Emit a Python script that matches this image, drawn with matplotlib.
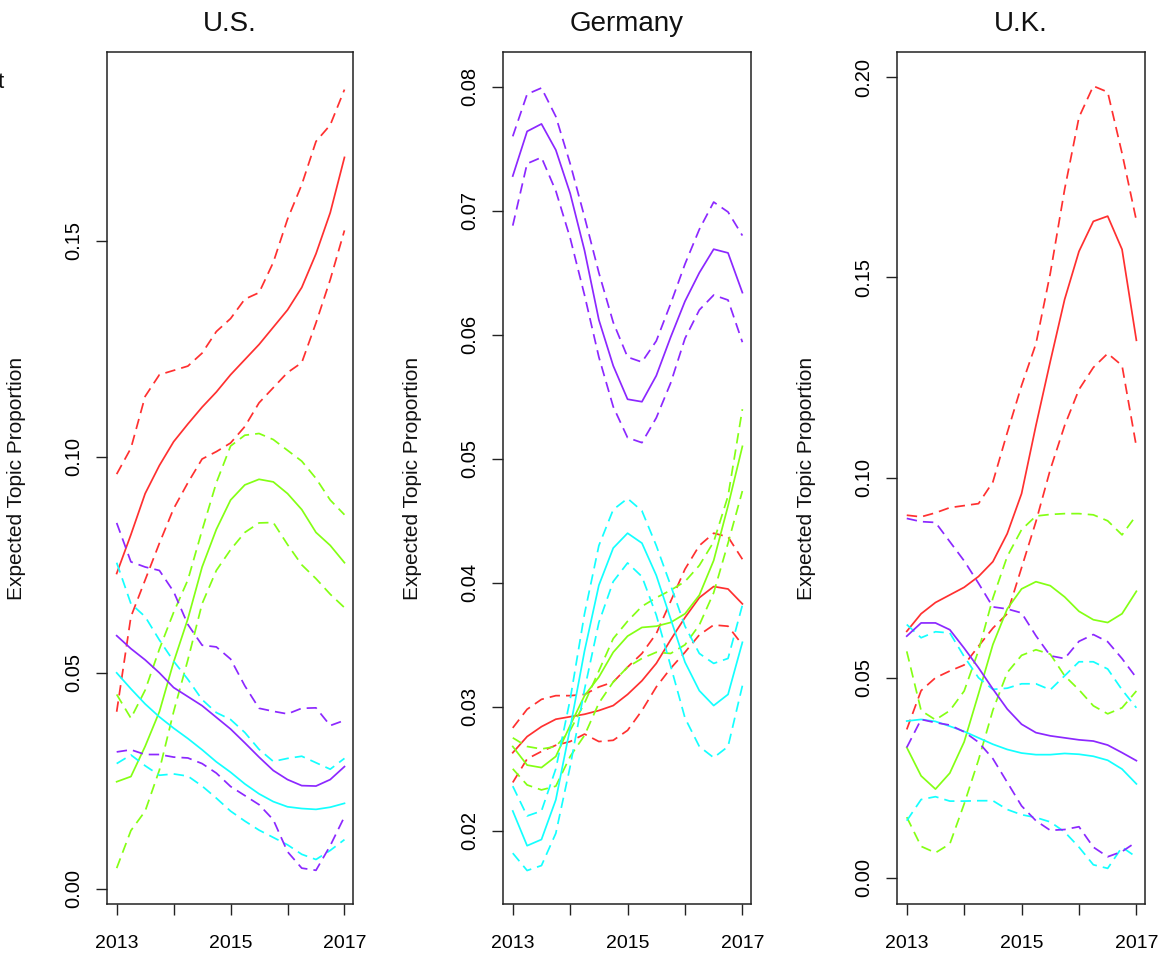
import matplotlib
matplotlib.use("Agg")
import matplotlib.pyplot as plt

plt.rcParams['font.family'] = ['Liberation Sans', 'DejaVu Sans']

years = [2013.0, 2013.25, 2013.5, 2013.75, 2014.0, 2014.25, 2014.5, 2014.75,
         2015.0, 2015.25, 2015.5, 2015.75, 2016.0, 2016.25, 2016.5, 2016.75, 2017.0]
xtick_years = [2013, 2014, 2015, 2016, 2017]
xtick_labels = ["2013", "", "2015", "", "2017"]

titles = ["U.S.", "Germany", "U.K."]
ylabel = "Expected Topic Proportion"

# ---------------- U.S. ----------------
us_red_mean = [0.073, 0.082, 0.0915, 0.098, 0.1035, 0.1076, 0.1115, 0.115, 0.119, 0.1225, 0.126, 0.130, 0.134, 0.1392, 0.147, 0.1565, 0.1693]
us_red_hi = [0.096, 0.102, 0.114, 0.119, 0.120, 0.121, 0.124, 0.129, 0.132, 0.1365, 0.138, 0.145, 0.155, 0.163, 0.173, 0.1768, 0.185]
us_red_lo = [0.041, 0.063, 0.0715, 0.080, 0.088, 0.094, 0.0995, 0.1012, 0.1032, 0.107, 0.1125, 0.116, 0.1195, 0.1218, 0.131, 0.141, 0.1524]
us_green_mean = [0.0248, 0.026, 0.033, 0.041, 0.0525, 0.0625, 0.0745, 0.0832, 0.090, 0.0935, 0.0948, 0.0942, 0.0915, 0.0878, 0.0825, 0.0795, 0.0755]
us_green_hi = [0.045, 0.0395, 0.046, 0.0555, 0.064, 0.0715, 0.083, 0.094, 0.1025, 0.105, 0.1054, 0.104, 0.1015, 0.099, 0.095, 0.090, 0.0866]
us_green_lo = [0.0048, 0.0135, 0.018, 0.0275, 0.041, 0.053, 0.066, 0.0737, 0.0785, 0.0825, 0.0847, 0.0848, 0.0797, 0.075, 0.0718, 0.0682, 0.0651]
us_cyan_mean = [0.050, 0.0463, 0.0428, 0.0398, 0.0372, 0.0348, 0.0322, 0.0294, 0.027, 0.0243, 0.022, 0.0202, 0.019, 0.0186, 0.0184, 0.0189, 0.0198]
us_cyan_hi = [0.0755, 0.066, 0.063, 0.0576, 0.0527, 0.0485, 0.0438, 0.0408, 0.0392, 0.0362, 0.0323, 0.0295, 0.0302, 0.0307, 0.0292, 0.0277, 0.0302]
us_cyan_lo = [0.029, 0.031, 0.0285, 0.0263, 0.0266, 0.0261, 0.0238, 0.021, 0.018, 0.0157, 0.0136, 0.0119, 0.0102, 0.008, 0.0068, 0.0089, 0.0114]
us_purple_mean = [0.0586, 0.0556, 0.053, 0.050, 0.0466, 0.0445, 0.0424, 0.0397, 0.037, 0.0338, 0.0305, 0.0274, 0.0253, 0.0239, 0.0238, 0.0253, 0.0283]
us_purple_hi = [0.0847, 0.0757, 0.0745, 0.0737, 0.0688, 0.0612, 0.0564, 0.056, 0.0532, 0.047, 0.0418, 0.0411, 0.0405, 0.0418, 0.0419, 0.0378, 0.039]
us_purple_lo = [0.0317, 0.0322, 0.0311, 0.0311, 0.0305, 0.0303, 0.029, 0.0268, 0.0237, 0.0216, 0.0195, 0.016, 0.0086, 0.0048, 0.0043, 0.010, 0.0167]

# ---------------- Germany ----------------
de_red_mean = [0.0263, 0.0276, 0.0284, 0.029, 0.0292, 0.0294, 0.0297, 0.0301, 0.031, 0.0321, 0.0335, 0.0354, 0.0372, 0.0388, 0.0397, 0.0395, 0.0383]
de_red_hi = [0.0283, 0.0298, 0.0306, 0.0309, 0.0309, 0.031, 0.0316, 0.032, 0.0332, 0.0343, 0.0359, 0.0385, 0.0411, 0.043, 0.044, 0.0437, 0.0419]
de_red_lo = [0.0239, 0.0258, 0.0264, 0.0269, 0.0272, 0.0278, 0.0272, 0.0273, 0.0281, 0.0297, 0.0316, 0.0331, 0.0344, 0.0358, 0.0366, 0.0365, 0.035]
de_green_mean = [0.0268, 0.0253, 0.0251, 0.026, 0.0285, 0.0309, 0.0324, 0.0344, 0.0357, 0.0364, 0.0365, 0.0368, 0.0375, 0.039, 0.0418, 0.0462, 0.051]
de_green_hi = [0.0275, 0.0268, 0.0266, 0.0268, 0.0281, 0.0303, 0.0329, 0.0355, 0.0369, 0.0381, 0.0388, 0.0394, 0.0401, 0.0414, 0.0433, 0.047, 0.054]
de_green_lo = [0.025, 0.0237, 0.0233, 0.0236, 0.026, 0.0277, 0.0303, 0.032, 0.0332, 0.0339, 0.0344, 0.0343, 0.035, 0.0366, 0.0392, 0.0432, 0.0474]
de_cyan_mean = [0.0216, 0.0188, 0.0193, 0.0225, 0.0283, 0.0345, 0.0398, 0.0428, 0.044, 0.0432, 0.0406, 0.0371, 0.0336, 0.0313, 0.0301, 0.031, 0.0352]
de_cyan_hi = [0.0236, 0.0212, 0.0216, 0.025, 0.0306, 0.0375, 0.043, 0.0459, 0.0468, 0.0458, 0.043, 0.0398, 0.0365, 0.0343, 0.0335, 0.0339, 0.0382]
de_cyan_lo = [0.0182, 0.0168, 0.0172, 0.0198, 0.0252, 0.0314, 0.0368, 0.0401, 0.0416, 0.0405, 0.0374, 0.0333, 0.0291, 0.0268, 0.0259, 0.0268, 0.0317]
de_purple_mean = [0.0728, 0.0764, 0.077, 0.0749, 0.0714, 0.0668, 0.0612, 0.0575, 0.0548, 0.0546, 0.0567, 0.0598, 0.0627, 0.065, 0.0669, 0.0666, 0.0634]
de_purple_hi = [0.076, 0.0794, 0.0799, 0.0776, 0.0738, 0.0695, 0.065, 0.061, 0.0582, 0.0578, 0.0595, 0.0625, 0.0657, 0.0685, 0.0707, 0.0699, 0.068]
de_purple_lo = [0.0688, 0.0738, 0.0743, 0.0716, 0.0678, 0.0632, 0.0582, 0.0542, 0.0517, 0.0513, 0.0533, 0.0561, 0.0597, 0.062, 0.0632, 0.0628, 0.0594]

# ---------------- U.K. ----------------
uk_red_mean = [0.0616, 0.066, 0.0688, 0.0707, 0.0726, 0.0753, 0.079, 0.086, 0.096, 0.113, 0.129, 0.1445, 0.1565, 0.164, 0.1653, 0.157, 0.1343]
uk_red_hi = [0.0906, 0.0902, 0.0912, 0.0925, 0.093, 0.0935, 0.0989, 0.1112, 0.123, 0.1334, 0.151, 0.172, 0.190, 0.1978, 0.1963, 0.181, 0.1642]
uk_red_lo = [0.0371, 0.0468, 0.050, 0.0517, 0.0532, 0.0579, 0.0624, 0.066, 0.0775, 0.089, 0.102, 0.113, 0.122, 0.1275, 0.131, 0.128, 0.1077]
uk_green_mean = [0.0326, 0.0255, 0.0222, 0.0262, 0.034, 0.046, 0.0583, 0.0672, 0.0722, 0.074, 0.073, 0.0702, 0.0666, 0.0645, 0.0638, 0.066, 0.0716]
uk_green_hi = [0.0566, 0.0418, 0.0395, 0.0418, 0.0467, 0.0568, 0.0699, 0.0803, 0.087, 0.0904, 0.0908, 0.091, 0.091, 0.0907, 0.0892, 0.0857, 0.0906]
uk_green_lo = [0.0152, 0.0079, 0.0063, 0.0085, 0.0185, 0.0295, 0.0419, 0.0513, 0.0556, 0.057, 0.0559, 0.0505, 0.047, 0.043, 0.041, 0.0425, 0.0467]
uk_cyan_mean = [0.0392, 0.0396, 0.0391, 0.0379, 0.0366, 0.035, 0.0334, 0.0321, 0.0312, 0.0308, 0.0308, 0.0311, 0.0309, 0.0304, 0.0294, 0.0272, 0.0235]
uk_cyan_hi = [0.0633, 0.060, 0.0615, 0.0612, 0.0553, 0.050, 0.0471, 0.0474, 0.0485, 0.0485, 0.047, 0.0505, 0.054, 0.054, 0.0522, 0.047, 0.0425]
uk_cyan_lo = [0.0143, 0.0196, 0.0203, 0.0192, 0.0192, 0.0193, 0.0193, 0.0171, 0.0158, 0.0151, 0.014, 0.0115, 0.0077, 0.0033, 0.0024, 0.0077, 0.0052]
uk_purple_mean = [0.0604, 0.0637, 0.0637, 0.062, 0.0574, 0.0525, 0.0472, 0.0422, 0.0384, 0.0363, 0.0355, 0.035, 0.0345, 0.0342, 0.0332, 0.0313, 0.0293]
uk_purple_hi = [0.0898, 0.089, 0.0888, 0.084, 0.0792, 0.0736, 0.0677, 0.0672, 0.0662, 0.0605, 0.0555, 0.0548, 0.0591, 0.0608, 0.059, 0.0548, 0.050]
uk_purple_lo = [0.0326, 0.0396, 0.0388, 0.0382, 0.0365, 0.0339, 0.0298, 0.0239, 0.018, 0.0143, 0.0119, 0.0121, 0.0128, 0.0077, 0.0053, 0.0066, 0.009]

us_yticks = [0.00, 0.05, 0.10, 0.15]
us_ylabels = ["0.00", "0.05", "0.10", "0.15"]
de_yticks = [0.02, 0.03, 0.04, 0.05, 0.06, 0.07, 0.08]
de_ylabels = ["0.02", "0.03", "0.04", "0.05", "0.06", "0.07", "0.08"]
uk_yticks = [0.00, 0.05, 0.10, 0.15, 0.20]
uk_ylabels = ["0.00", "0.05", "0.10", "0.15", "0.20"]

topic_colors = ["#FF3030", "#84FF14", "#14FFFF", "#8C28FF"]

W, H = 1172, 956
fig = plt.figure(figsize=(W / 100, H / 100), dpi=100)

panels = [
    dict(left=107, right=353, ylim=(-0.0035, 0.1937), yticks=us_yticks, ylabels=us_ylabels,
         series=[(us_red_mean, us_red_hi, us_red_lo), (us_green_mean, us_green_hi, us_green_lo),
                 (us_cyan_mean, us_cyan_hi, us_cyan_lo), (us_purple_mean, us_purple_hi, us_purple_lo)]),
    dict(left=503, right=751, ylim=(0.0141, 0.0828), yticks=de_yticks, ylabels=de_ylabels,
         series=[(de_red_mean, de_red_hi, de_red_lo), (de_green_mean, de_green_hi, de_green_lo),
                 (de_cyan_mean, de_cyan_hi, de_cyan_lo), (de_purple_mean, de_purple_hi, de_purple_lo)]),
    dict(left=897, right=1145, ylim=(-0.0065, 0.2063), yticks=uk_yticks, ylabels=uk_ylabels,
         series=[(uk_red_mean, uk_red_hi, uk_red_lo), (uk_green_mean, uk_green_hi, uk_green_lo),
                 (uk_cyan_mean, uk_cyan_hi, uk_cyan_lo), (uk_purple_mean, uk_purple_hi, uk_purple_lo)]),
]

top_px, bottom_px = 52, 904
for title, p in zip(titles, panels):
    wpx = p['right'] - p['left']
    ax = fig.add_axes([p['left'] / W, (H - bottom_px) / H, wpx / W, (bottom_px - top_px) / H])
    for color, (mean, hi, lo) in zip(topic_colors, p['series']):
        ax.plot(years, mean, color=color, lw=1.25, solid_joinstyle='round')
        ax.plot(years, hi, color=color, lw=1.25, dashes=(6, 3.5), dash_joinstyle='round')
        ax.plot(years, lo, color=color, lw=1.25, dashes=(6, 3.5), dash_joinstyle='round')
    ax.set_xlim(2012.83, 2017.15)
    ax.set_ylim(*p['ylim'])
    ax.set_xticks(xtick_years)
    ax.set_xticklabels(xtick_labels, fontsize=14)
    ax.set_yticks(p['yticks'])
    ax.set_yticklabels(p['ylabels'], fontsize=14.5, rotation=90, va='center')
    ax.tick_params(axis='both', direction='out', length=8, width=1.0, color='#222222')
    ax.tick_params(axis='x', pad=14)
    ax.tick_params(axis='y', pad=9)
    for s in ax.spines.values():
        s.set_color('#222222')
        s.set_linewidth(1.1)
    ax.set_title(title, fontsize=20, pad=15, color='#111111')
    ax.set_ylabel(ylabel, fontsize=15, color='#111111')
    ax.yaxis.set_label_coords(-81 / wpx, 0.5)

fig.text(-0.002, 1 - 82 / H, "t", fontsize=16, ha='left', va='center', color='#111111')

fig.savefig("out.png", dpi=100)
